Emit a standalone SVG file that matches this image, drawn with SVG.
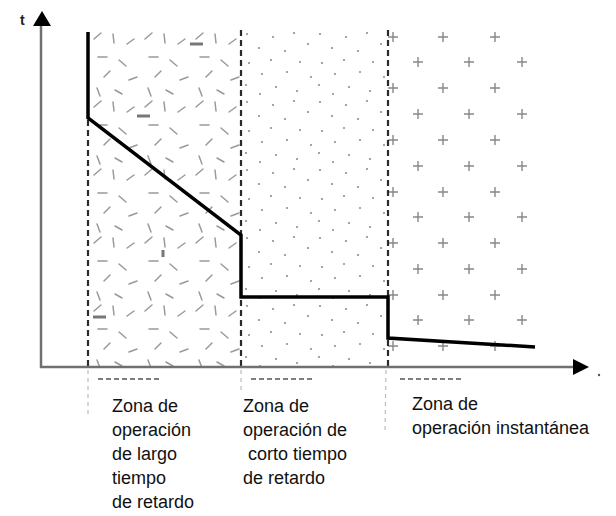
<svg xmlns="http://www.w3.org/2000/svg" width="616" height="516" viewBox="0 0 616 516">
<style>
.lbl{font-family:"Liberation Sans",Arial,sans-serif;font-size:18px;fill:#111}
.dash{stroke:#2a2a2a;stroke-width:2.2;stroke-dasharray:6 4;fill:none}
.faint{stroke:#bbb;stroke-width:1.2;stroke-dasharray:4 4;fill:none}
.plus{stroke:#888;stroke-width:1.4}
.curve{stroke:#000;stroke-width:3.5;fill:none;stroke-linejoin:miter}
.axis{stroke:#707070;stroke-width:2.5;fill:none}
</style>
<defs>
<pattern id="dashes" patternUnits="userSpaceOnUse" x="89" y="30" width="51" height="68">
<g stroke="#999" stroke-width="1.5" stroke-linecap="round">
<line x1="5" y1="9" x2="12" y2="3"/>
<line x1="24" y1="4" x2="25" y2="13"/>
<line x1="38" y1="14" x2="45" y2="9"/>
<line x1="9" y1="27" x2="18" y2="27"/>
<line x1="30" y1="30" x2="37" y2="36"/>
<line x1="15" y1="47" x2="21" y2="41"/>
<line x1="40" y1="50" x2="48" y2="47"/>
<line x1="8" y1="58" x2="11" y2="66"/>
<line x1="26" y1="60" x2="33" y2="64"/>
</g>
</pattern>
<pattern id="dots" patternUnits="userSpaceOnUse" x="242" y="30" width="73" height="68">
<g fill="#8f8f8f">
<circle cx="5" cy="4" r="1.1"/>
<circle cx="31" cy="7" r="1.1"/>
<circle cx="52" cy="3" r="1.1"/>
<circle cx="66" cy="14" r="1.1"/>
<circle cx="17" cy="18" r="1.1"/>
<circle cx="43" cy="21" r="1.1"/>
<circle cx="7" cy="33" r="1.1"/>
<circle cx="29" cy="30" r="1.1"/>
<circle cx="58" cy="32" r="1.1"/>
<circle cx="20" cy="44" r="1.1"/>
<circle cx="45" cy="42" r="1.1"/>
<circle cx="69" cy="47" r="1.1"/>
<circle cx="4" cy="55" r="1.1"/>
<circle cx="34" cy="57" r="1.1"/>
<circle cx="55" cy="61" r="1.1"/>
<circle cx="18" cy="64" r="1.1"/>
</g>
</pattern>
</defs>

<g id="zone-long">
<rect x="89" y="30" width="151" height="336" fill="url(#dashes)"/>
<g stroke="#777" stroke-width="3">
<line x1="190" y1="44" x2="203" y2="44"/>
<line x1="137" y1="116" x2="150" y2="116"/>
<line x1="93" y1="317" x2="106" y2="317"/>
<line x1="163" y1="250" x2="163" y2="257"/>
</g>
</g>

<g id="zone-short">
<rect x="243" y="30" width="143" height="336" fill="url(#dots)"/>
</g>

<g id="zone-instant">
<g class="plus">
<path d="M388 37h10M393 32v10M438 37h10M443 32v10M490 37h10M495 32v10"/>
<path d="M413 62h10M418 57v10M464 62h10M469 57v10M517 62h10M522 57v10"/>
<path d="M388 88h10M393 83v10M438 88h10M443 83v10M490 88h10M495 83v10"/>
<path d="M413 114h10M418 109v10M464 114h10M469 109v10M517 114h10M522 109v10"/>
<path d="M388 140h10M393 135v10M438 140h10M443 135v10M490 140h10M495 135v10"/>
<path d="M413 166h10M418 161v10M464 166h10M469 161v10M517 166h10M522 161v10"/>
<path d="M388 192h10M393 187v10M438 192h10M443 187v10M490 192h10M495 187v10"/>
<path d="M413 217h10M418 212v10M464 217h10M469 212v10M517 217h10M522 212v10"/>
<path d="M388 243h10M393 238v10M438 243h10M443 238v10M490 243h10M495 238v10"/>
<path d="M413 269h10M418 264v10M464 269h10M469 264v10M517 269h10M522 264v10"/>
<path d="M388 295h10M393 290v10M438 295h10M443 290v10M490 295h10M495 290v10"/>
<path d="M413 320h10M418 315v10M464 320h10M469 315v10M517 320h10M522 315v10"/>
<path d="M388 346h10M393 341v10M438 346h10M443 341v10M490 346h10M495 341v10"/>
</g>
</g>

<g id="boundaries">
<line class="dash" x1="88" y1="120" x2="88" y2="368"/>
<line class="dash" x1="241" y1="30" x2="241" y2="368"/>
<line class="dash" x1="388" y1="30" x2="388" y2="368"/>
<line class="faint" x1="88" y1="370" x2="88" y2="418"/>
<line class="faint" x1="241" y1="370" x2="241" y2="392"/>
<line class="faint" x1="386" y1="370" x2="385" y2="432"/>
<g stroke="#555" stroke-width="1.6" stroke-dasharray="5 3">
<line x1="98" y1="379" x2="162" y2="379"/>
<line x1="251" y1="379" x2="314" y2="379"/>
<line x1="400" y1="379" x2="462" y2="379"/>
</g>
</g>

<g id="axes">
<line class="axis" x1="41" y1="368" x2="41" y2="24"/>
<line class="axis" x1="40" y1="367" x2="576" y2="367"/>
<polygon points="42,11 33,26 51,26" fill="#000"/>
<polygon points="589,367 573,359 573,375" fill="#000"/>
<circle cx="599" cy="375" r="1.2" fill="#555"/>
<text x="20" y="25" font-family="Liberation Sans,Arial,sans-serif" font-size="14" font-weight="bold" fill="#222">t</text>
</g>

<g id="connectors">
<polyline class="curve" points="88,32 88,118 241,235 241,297 388,297 388,338 535,347"/>
</g>

<g id="labels">
<text class="lbl" x="112" y="412">Zona de</text>
<text class="lbl" x="112" y="436">operación</text>
<text class="lbl" x="112" y="460">de largo</text>
<text class="lbl" x="112" y="484">tiempo</text>
<text class="lbl" x="112" y="508">de retardo</text>
<text class="lbl" x="243" y="412">Zona de</text>
<text class="lbl" x="243" y="436">operación de</text>
<text class="lbl" x="248" y="460">corto tiempo</text>
<text class="lbl" x="243" y="484">de retardo</text>
<text class="lbl" x="412" y="410">Zona de</text>
<text class="lbl" x="412" y="434">operación instantánea</text>
</g>
</svg>
